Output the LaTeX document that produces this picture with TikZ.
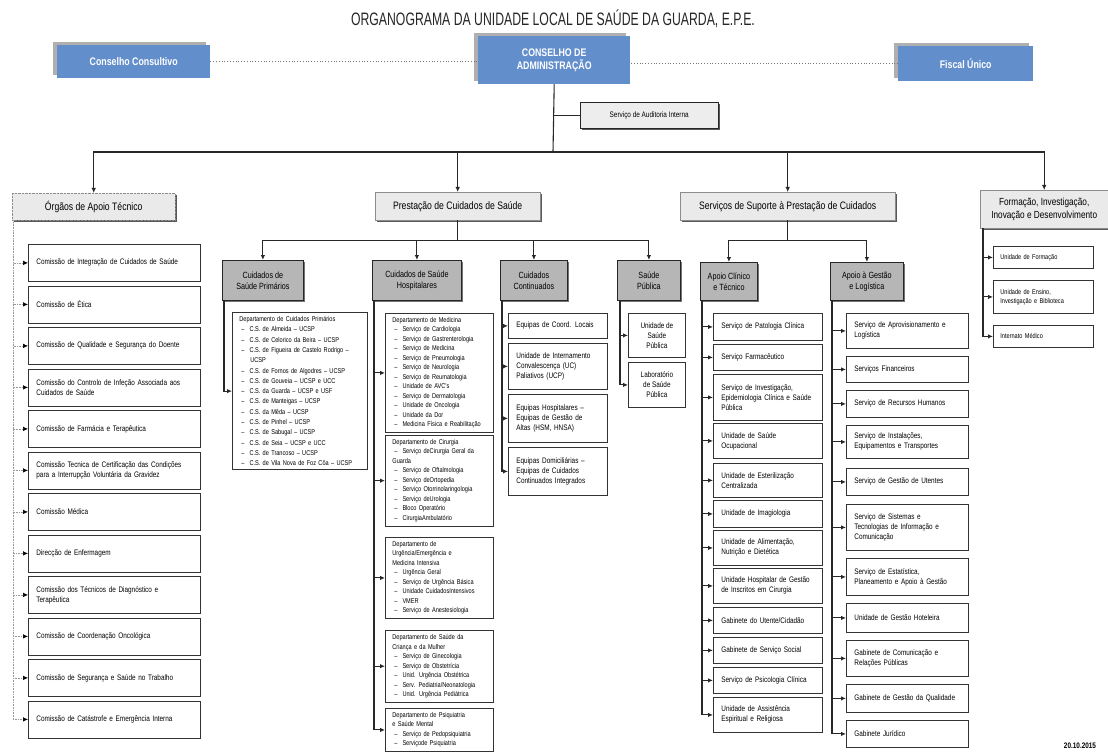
\documentclass[tikz,border=0pt]{standalone}
\usepackage{fontspec}
\setmainfont{Liberation Sans}[FakeStretch=0.8]
\newfontfamily\titlefont{Liberation Sans}[FakeStretch=0.68]
\usepackage{tikz}
\usetikzlibrary{arrows.meta,positioning,shadows,calc}

\definecolor{cablue}{RGB}{98,142,204}
\definecolor{casha}{RGB}{175,175,175}
\definecolor{secgray}{RGB}{182,182,182}
\definecolor{hdgray}{RGB}{234,234,234}
\definecolor{lnk}{RGB}{40,40,40}

\newcommand{\itm}[1]{\\\hspace*{2pt}--\hspace{5pt}#1}
\newcommand{\itc}[1]{\\\hspace*{11pt}#1}

\tikzset{
  wh/.style 2 args={minimum width=#1, minimum height=#2},
  topbox/.style={fill=cablue, text=white, align=center, inner sep=0pt, anchor=north west,
    font=\fontsize{11}{13}\selectfont\bfseries,
    drop shadow={shadow xshift=-4pt, shadow yshift=3pt, fill=casha, opacity=1}},
  hdbox/.style={draw=black!45, fill=hdgray, align=center, inner sep=0pt, anchor=north west,
    font=\fontsize{10.8}{13}\selectfont,
    drop shadow={shadow xshift=2pt, shadow yshift=-2pt, fill=black!65, opacity=1}},
  secbox/.style={draw=black!85, line width=0.8pt, fill=secgray, align=center, inner sep=0pt,
    anchor=north west, font=\fontsize{9}{11}\selectfont,
    drop shadow={shadow xshift=1.5pt, shadow yshift=-1.5pt, fill=black!55, opacity=1}},
  ibox/.style={draw=black!80, line width=0.8pt, fill=white, align=left, anchor=north west,
    inner xsep=8pt, inner ysep=2pt, text width=#1,
    font=\fontsize{8}{10}\selectfont},
  cbox/.style={draw=black!80, line width=0.8pt, fill=white, align=center, anchor=north west,
    inner sep=2pt, font=\fontsize{8}{10}\selectfont},
  lbox/.style={draw=black!80, line width=0.8pt, fill=white, align=left, anchor=north west,
    inner xsep=7pt, inner ysep=4pt, text width=#1,
    font=\fontsize{7}{9.5}\selectfont},
  link/.style={draw=lnk, line width=1.1pt, -{Latex[length=5pt,width=4.5pt]}},
  plain/.style={draw=lnk, line width=1.1pt},
  olink/.style={draw=black!40, line width=0.6pt, densely dotted, -{Latex[length=5pt,width=4.5pt,color=black]}},
  dotlink/.style={draw=black!55, line width=0.8pt, dotted},
}

\begin{document}
\begin{tikzpicture}[x=1pt, y=-1pt]
    \useasboundingbox (0,0) rectangle (1108,754);
    \fill[white] (0,0) rectangle (1108,754);

    % Title
    \node[text=black!85, font={\titlefont\fontsize{18}{20}\selectfont}] (title) at (553,19)
        {ORGANOGRAMA DA UNIDADE LOCAL DE SAÚDE DA GUARDA, E.P.E.};

    % Top level
    \node[topbox, wh={153}{33}] (consultivo) at (57,45) {Conselho Consultivo};
    \node[topbox, wh={152}{48}] (ca) at (478,36) {CONSELHO DE\\ADMINISTRAÇÃO};
    \node[topbox, wh={135}{35}] (fiscal) at (898,46) {Fiscal Único};
    \node[hdbox, draw=black!85, fill=black!7, wh={138}{26}, font=\fontsize{8}{10}\selectfont] (auditoria) at (580,102)
        {Serviço de Auditoria Interna};

    \draw[dotlink] (consultivo.east) -- (consultivo.east -| ca.west);
    \draw[dotlink] (fiscal.west) -- (fiscal.west -| ca.east);

    % Main areas
    \node[hdbox, densely dotted, wh={163}{27}] (orgaos) at (12,193) {Órgãos de Apoio Técnico};
    \node[hdbox, wh={165}{28}] (prest) at (375,192) {Prestação de Cuidados de Saúde};
    \node[hdbox, wh={215}{28}] (suporte) at (680,192) {Serviços de Suporte à Prestação de Cuidados};
    \node[hdbox, wh={128}{38}, font=\fontsize{10.3}{12.5}\selectfont] (formacao) at (980,190)
        {Formação, Investigação,\\Inovação e Desenvolvimento};

    \coordinate (bus) at (553,152);
    \draw[plain] (ca.south) -- (bus);
    \draw[plain] (auditoria.west) -- (auditoria.west -| ca.south);
    \draw[link] (bus) -| (orgaos.north);
    \draw[link] (bus) -| (prest.north);
    \draw[link] (bus) -| (suporte.north);
    \draw[link] (bus) -| (formacao.north);

    % Orgaos de Apoio Tecnico
    \node[ibox=156pt, minimum height=37] (o1) at (28,244) {Comissão de Integração de Cuidados de Saúde};
    \node[ibox=156pt, minimum height=37] (o2) at (28,285.5) {Comissão de Ética};
    \node[ibox=156pt, minimum height=37] (o3) at (28,327) {Comissão de Qualidade e Segurança do Doente};
    \node[ibox=156pt, minimum height=37] (o4) at (28,368.5) {Comissão do Controlo de Infeção Associada aos\\Cuidados de Saúde};
    \node[ibox=156pt, minimum height=37] (o5) at (28,410) {Comissão de Farmácia e Terapêutica};
    \node[ibox=156pt, minimum height=37] (o6) at (28,451.5) {Comissão Tecnica de Certificação das Condições\\para a Interrupção Voluntária da Gravidez};
    \node[ibox=156pt, minimum height=37] (o7) at (28,493) {Comissão Médica};
    \node[ibox=156pt, minimum height=37] (o8) at (28,534.5) {Direcção de Enfermagem};
    \node[ibox=156pt, minimum height=37] (o9) at (28,576) {Comissão dos Técnicos de Diagnóstico e\\Terapêutica};
    \node[ibox=156pt, minimum height=37] (o10) at (28,617.5) {Comissão de Coordenação Oncológica};
    \node[ibox=156pt, minimum height=37] (o11) at (28,659) {Comissão de Segurança e Saúde no Trabalho};
    \node[ibox=156pt, minimum height=37] (o12) at (28,700.5) {Comissão de Catástrofe e Emergência Interna};
    \foreach \i in {1,...,12}
        \draw[olink] ([xshift=1pt]orgaos.south west) |- (o\i.west);

    % Prestacao de Cuidados de Saude
    \node[secbox, wh={81}{40}] (primarios) at (222,260) {Cuidados de\\Saúde Primários};
    \node[secbox, wh={89}{40}] (hospital) at (372,260) {Cuidados de Saúde\\Hospitalares};
    \node[secbox, wh={67}{40}] (continuados) at (500,260) {Cuidados\\Continuados};
    \node[secbox, wh={63}{40}] (publica) at (617,260) {Saúde\\Pública};

    \coordinate (pbus) at ($(prest.south)+(0,20)$);
    \draw[plain] (prest.south) -- (pbus);
    \draw[link] (pbus) -| (primarios.north);
    \draw[link] (pbus) -| (hospital.north);
    \draw[link] (pbus) -| (continuados.north);
    \draw[link] (pbus) -| (publica.north);

    % Cuidados de Saude Primarios
    \node[lbox=121pt, font=\fontsize{7}{10.3}\selectfont] (csp) at (232,312) {Departamento de Cuidados Primários
        \itm{C.S. de Almeida -- UCSP}
        \itm{C.S. de Celorico da Beira -- UCSP}
        \itm{C.S. de Figueira de Castelo Rodrigo --}\itc{UCSP}
        \itm{C.S. de Fornos de Algodres -- UCSP}
        \itm{C.S. de Gouveia -- UCSP e UCC}
        \itm{C.S. da Guarda -- UCSP e USF}
        \itm{C.S. de Manteigas -- UCSP}
        \itm{C.S. da Mêda -- UCSP}
        \itm{C.S. de Pinhel -- UCSP}
        \itm{C.S. de Sabugal -- UCSP}
        \itm{C.S. de Seia -- UCSP e UCC}
        \itm{C.S. de Trancoso -- UCSP}
        \itm{C.S. de Vila Nova de Foz Côa -- UCSP}};
    \draw[link] ([xshift=2pt]primarios.south west) |- (csp.west);

    % Cuidados de Saude Hospitalares
    \node[lbox=94pt] (dmed) at (385,313) {Departamento de Medicina
        \itm{Serviço de Cardiologia}
        \itm{Serviço de Gastrenterologia}
        \itm{Serviço de Medicina}
        \itm{Serviço de Pneumologia}
        \itm{Serviço de Neurologia}
        \itm{Serviço de Reumatologia}
        \itm{Unidade de AVC's}
        \itm{Serviço de Dermatologia}
        \itm{Unidade de Oncologia}
        \itm{Unidade da Dor}
        \itm{Medicina Física e Reabilitação}};
    \node[lbox=94pt] (dcir) at (385,435) {Departamento de Cirurgia
        \itm{Serviço deCirurgia Geral da}\\Guarda
        \itm{Serviço de Oftalmologia}
        \itm{Serviço deOrtopedia}
        \itm{Serviço Otorrinolaringologia}
        \itm{Serviço deUrologia}
        \itm{Bloco Operatório}
        \itm{CirurgiaAmbulatório}};
    \node[lbox=94pt] (durg) at (385,537) {Departamento de\\Urgência/Emergência e\\Medicina Intensiva
        \itm{Urgência Geral}
        \itm{Serviço de Urgência Básica}
        \itm{Unidade CuidadosIntensivos}
        \itm{VMER}
        \itm{Serviço de Anestesiologia}};
    \node[lbox=94pt] (dcri) at (385,630) {Departamento de Saúde da\\Criança e da Mulher
        \itm{Serviço de Ginecologia}
        \itm{Serviço de Obstetrícia}
        \itm{Unid. Urgência Obstétrica}
        \itm{Serv. Pediatria/Neonatologia}
        \itm{Unid. Urgência Pediátrica}};
    \node[lbox=94pt] (dpsi) at (385,708) {Departamento de Psiquiatria\\e Saúde Mental
        \itm{Serviço de Pedopsiquiatria}
        \itm{Serviçode Psiquiatria}};
    \foreach \d in {dmed,dcir,durg,dcri,dpsi}
        \draw[link] ([xshift=2pt]hospital.south west) |- (\d.west);

    % Cuidados Continuados
    \node[ibox=83pt, minimum height=25] (cc1) at (508,313) {Equipas de Coord. Locais};
    \node[ibox=83pt, minimum height=46] (cc2) at (508,343) {Unidade de Internamento\\Convalescença (UC)\\Paliativos (UCP)};
    \node[ibox=83pt, minimum height=48] (cc3) at (508,394) {Equipas Hospitalares --\\Equipas de Gestão de\\Altas (HSM, HNSA)};
    \node[ibox=83pt, minimum height=48] (cc4) at (508,447) {Equipas Domiciliárias --\\Equipas de Cuidados\\Continuados Integrados};
    \foreach \i in {1,...,4}
        \draw[link] ([xshift=2pt]continuados.south west) |- (cc\i.west);

    % Saude Publica
    \node[cbox, wh={57}{44}] (sp1) at (628,313) {Unidade de\\Saúde\\Pública};
    \node[cbox, wh={57}{45}] (sp2) at (628,362) {Laboratório\\de Saúde\\Pública};
    \foreach \i in {1,2}
        \draw[link] ([xshift=3pt]publica.south west) |- (sp\i.west);

    % Servicos de Suporte
    \node[secbox, wh={57}{38}] (clinico) at (700,262) {Apoio Clínico\\e Técnico};
    \node[secbox, wh={73}{38}] (gestao) at (830,262) {Apoio à Gestão\\e Logística};

    \coordinate (sbus) at ($(suporte.south)+(0,20)$);
    \draw[plain] (suporte.south) -- (sbus);
    \draw[link] (sbus) -| (clinico.north);
    \draw[link] (sbus) -| (gestao.north);

    % Apoio Clinico e Tecnico
    \node[ibox=93pt, minimum height=27] (ac1) at (713,313) {Serviço de Patologia Clínica};
    \node[ibox=93pt, minimum height=26] (ac2) at (713,344) {Serviço Farmacêutico};
    \node[ibox=93pt, minimum height=46] (ac3) at (713,374) {Serviço de Investigação,\\Epidemiologia Clínica e Saúde\\Pública};
    \node[ibox=93pt, minimum height=35] (ac4) at (713,423) {Unidade de Saúde\\Ocupacional};
    \node[ibox=93pt, minimum height=34] (ac5) at (713,463) {Unidade de Esterilização\\Centralizada};
    \node[ibox=93pt, minimum height=27] (ac6) at (713,500) {Unidade de Imagiologia};
    \node[ibox=93pt, minimum height=35] (ac7) at (713,530) {Unidade de Alimentação,\\Nutrição e Dietética};
    \node[ibox=93pt, minimum height=35] (ac8) at (713,568) {Unidade Hospitalar de Gestão\\de Inscritos em Cirurgia};
    \node[ibox=93pt, minimum height=26] (ac9) at (713,607) {Gabinete do Utente/Cidadão};
    \node[ibox=93pt, minimum height=26] (ac10) at (713,637) {Gabinete de Serviço Social};
    \node[ibox=93pt, minimum height=26] (ac11) at (713,667) {Serviço de Psicologia Clínica};
    \node[ibox=93pt, minimum height=35] (ac12) at (713,697) {Unidade de Assistência\\Espiritual e Religiosa};
    \foreach \i in {1,...,12}
        \draw[link] ([xshift=2pt]clinico.south west) |- (ac\i.west);

    % Apoio a Gestao e Logistica
    \node[ibox=106pt, minimum height=35] (ag1) at (846,313) {Serviço de Aprovisionamento e\\Logística};
    \node[ibox=106pt, minimum height=26] (ag2) at (846,356) {Serviços Financeiros};
    \node[ibox=106pt, minimum height=27] (ag3) at (846,390) {Serviço de Recursos Humanos};
    \node[ibox=106pt, minimum height=33] (ag4) at (846,425) {Serviço de Instalações,\\Equipamentos e Transportes};
    \node[ibox=106pt, minimum height=27] (ag5) at (846,468) {Serviço de Gestão de Utentes};
    \node[ibox=106pt, minimum height=46] (ag6) at (846,504) {Serviço de Sistemas e\\Tecnologias de Informação e\\Comunicação};
    \node[ibox=106pt, minimum height=37] (ag7) at (846,558) {Serviço de Estatística,\\Planeamento e Apoio à Gestão};
    \node[ibox=106pt, minimum height=29] (ag8) at (846,603) {Unidade de Gestão Hoteleira};
    \node[ibox=106pt, minimum height=36] (ag9) at (846,640) {Gabinete de Comunicação e\\Relações Públicas};
    \node[ibox=106pt, minimum height=28] (ag10) at (846,684) {Gabinete de Gestão da Qualidade};
    \node[ibox=106pt, minimum height=27] (ag11) at (846,720) {Gabinete Jurídico};
    \foreach \i in {1,...,11}
        \draw[link] ([xshift=2pt]gestao.south west) |- (ag\i.west);

    % Formacao
    \node[ibox=86pt, inner xsep=7pt, minimum height=22, font=\fontsize{7}{9}\selectfont] (fi1) at (993,246) {Unidade de Formação};
    \node[ibox=86pt, inner xsep=7pt, minimum height=33, font=\fontsize{7}{9}\selectfont] (fi2) at (993,280) {Unidade de Ensino,\\Investigação e Biblioteca};
    \node[ibox=86pt, inner xsep=7pt, minimum height=22, font=\fontsize{7}{9}\selectfont] (fi3) at (993,325) {Internato Médico};
    \foreach \i in {1,2,3}
        \draw[link] ([xshift=3pt]formacao.south west) |- (fi\i.west);

    % Date
    \node[font=\fontsize{8}{9}\selectfont\bfseries] (data) at (1080,746) {20.10.2015};
\end{tikzpicture}
\end{document}
